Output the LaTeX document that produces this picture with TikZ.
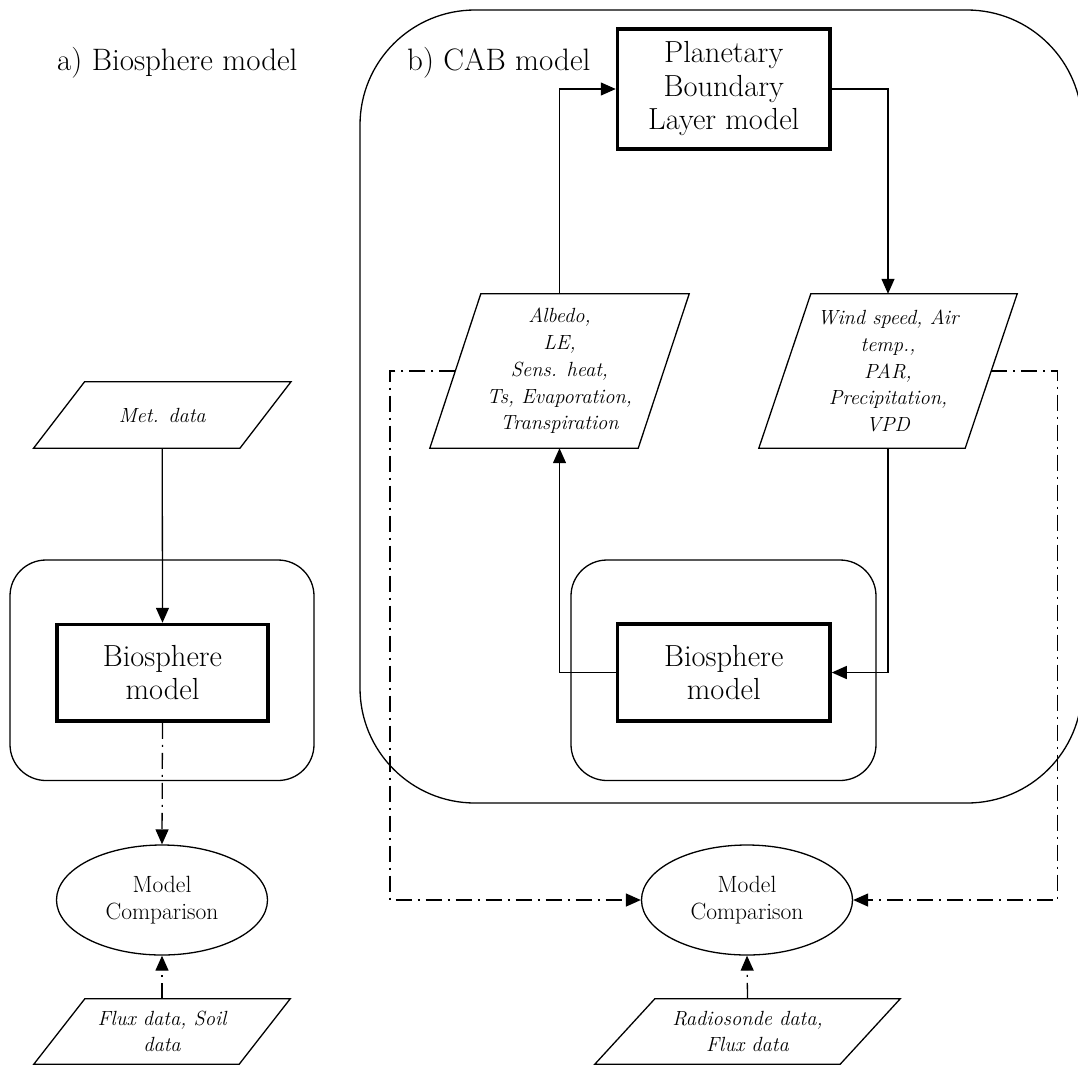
\documentclass[tikz,border=0pt]{standalone}
\usetikzlibrary{shapes.geometric,arrows.meta}
\newcommand\outlinepara[2]{%
  \draw[line width=1.3pt, line join=miter]
    ([xshift=-0.5*#2]#1.south west) -- ([xshift=-0.5*#2]#1.south east) --
    ([xshift=0.5*#2]#1.north east) -- ([xshift=0.5*#2]#1.north west) -- cycle;}
\begin{document}
\begin{tikzpicture}[x=1pt,y=-1pt]
\tikzset{
 cont/.style={draw, line width=1.3pt, rounded corners=36pt, inner sep=0},
 model/.style={draw, line width=3.5pt, inner sep=0, align=center, font=\fontsize{30.5}{33.5}\selectfont},
 para/.style={rectangle, inner sep=0, align=center, font=\fontsize{20.5}{26.7}\selectfont\itshape},
 cmp/.style={draw, ellipse, line width=1.3pt, minimum width=211pt, minimum height=110pt, inner sep=0, align=center, font=\fontsize{23.5}{27}\selectfont},
 flow/.style={line width=1.3pt, -{Triangle[length=15pt,width=13pt]}},
 dd/.style={flow, dash pattern=on 16pt off 6pt on 2pt off 6pt},
 title/.style={anchor=base west, inner sep=0, font=\fontsize{31}{34}\selectfont},
}
\useasboundingbox (0,0) rectangle (1078,1066);
\clip (0,0) rectangle (1078,1066);

% containers
\node[cont, minimum width=722pt, minimum height=793pt, rounded corners=115pt] (cab) at (721,406.5) {};
\node[cont, minimum width=304pt, minimum height=220.5pt] (contA) at (162,670.25) {};
\node[cont, minimum width=305pt, minimum height=220.5pt] (contB) at (723.5,670.25) {};

% titles
\node[title] (ta) at (57,70.6) {a) Biosphere model};
\node[title] (tb) at (407,70.6) {b) CAB model};

% model boxes
\node[model, minimum width=211pt, minimum height=96.5pt] (bioA) at (162.5,672.75) {Biosphere\\model};
\node[model, minimum width=212.5pt, minimum height=97pt] (bioB) at (723.75,672.5) {Biosphere\\model};
\node[model, minimum width=212.5pt, minimum height=120pt] (pbl) at (723.75,89) {Planetary\\Boundary\\Layer model};

% data parallelograms
\node[para, minimum width=206pt, minimum height=66pt] (met) at (162.25,415) {Met. data};
\outlinepara{met}{51pt}
\node[para, minimum width=208pt, minimum height=154pt] (alb) at (559.5,371) {Albedo,\\LE,\\Sens. heat,\\Ts, Evaporation,\\Transpiration};
\outlinepara{alb}{51pt}
\node[para, minimum width=206pt, minimum height=154pt] (wind) at (888,371) {Wind speed, Air\\temp.,\\PAR,\\Precipitation,\\VPD};
\outlinepara{wind}{52pt}
\node[para, minimum width=205pt, minimum height=65pt] (flux) at (162,1031.5) {Flux data, Soil\\data};
\outlinepara{flux}{51pt}
\node[para, minimum width=245pt, minimum height=65pt] (radio) at (747.5,1031.5) {Radiosonde data,\\Flux data};
\outlinepara{radio}{60pt}

% comparison ellipses
\node[cmp] (cmpA) at (162,900) {Model\\Comparison};
\node[cmp] (cmpB) at (747,900) {Model\\Comparison};

\coordinate (dl) at (390,900);
\coordinate (dr) at (1057.5,900);

% connectors
\draw[flow] (met.south) -- (bioA.north);
\draw[dd] (bioA.south) -- (cmpA.north);
\draw[dd] (flux.north) -- (cmpA.south);
\draw[flow] (alb.north) |- (pbl.west);
\draw[flow] (pbl.east) -| (wind.north);
\draw[flow] (bioB.west) -| (alb.south);
\draw[flow] (wind.south) |- (bioB.east);
\draw[dd] (alb.west) -| (dl) -- (cmpB.west);
\draw[dd] (wind.east) -| (dr) -- (cmpB.east);
\draw[dd] (radio.north) -- (cmpB.south);
\end{tikzpicture}
\end{document}
